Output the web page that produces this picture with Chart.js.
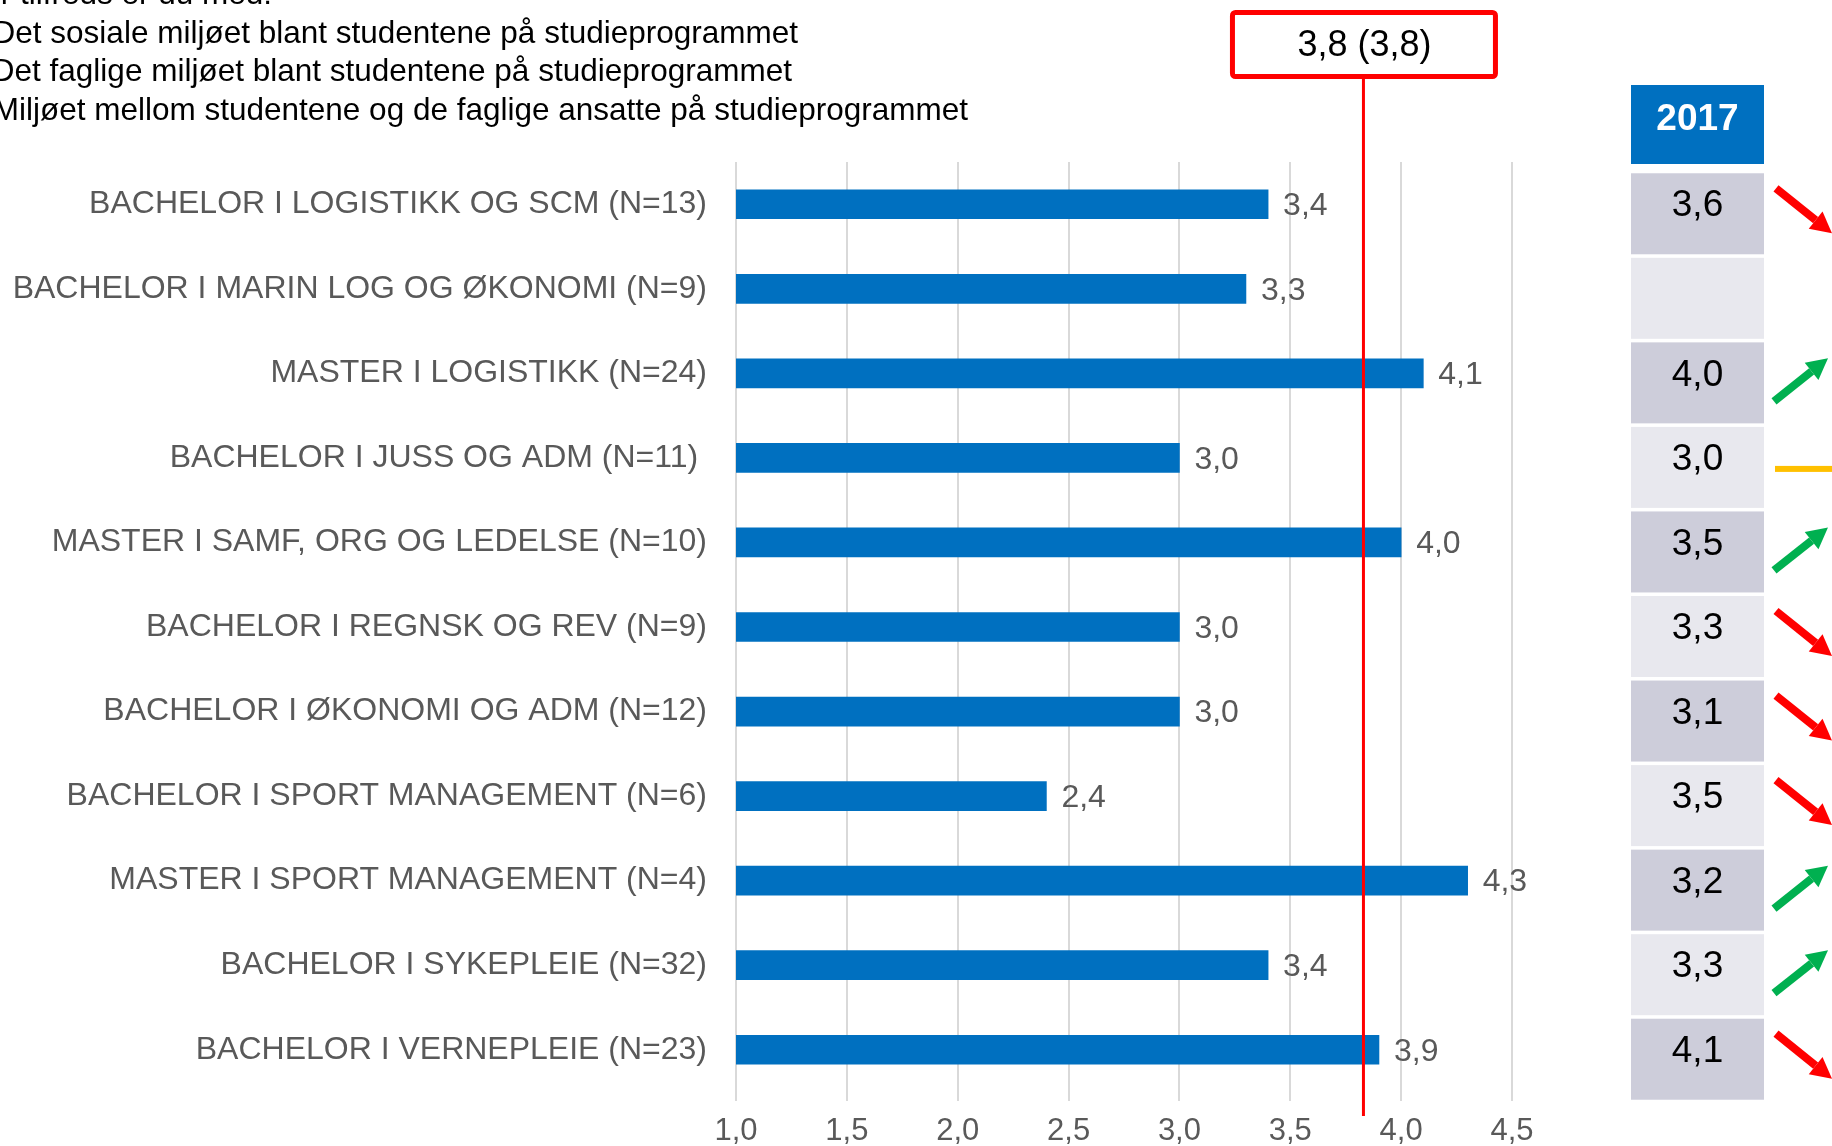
<!DOCTYPE html>
<html lang="no">
<head>
<meta charset="UTF-8">
<title>Studiemiljø</title>
<script src="https://cdn.jsdelivr.net/npm/chart.js@4.4.0/dist/chart.umd.min.js"></script>
<style>
  html, body { margin:0; padding:0; background:#ffffff; overflow:hidden; }
  canvas { display:block; }
</style>
</head>
<body>
<canvas id="miljo_chart" width="1832" height="1146"></canvas>
<script>
// data
const programmes = [
  'BACHELOR I LOGISTIKK OG SCM (N=13)',
  'BACHELOR I MARIN LOG OG ØKONOMI (N=9)',
  'MASTER I LOGISTIKK (N=24)',
  'BACHELOR I JUSS OG ADM (N=11) ',
  'MASTER I SAMF, ORG OG LEDELSE (N=10)',
  'BACHELOR I REGNSK OG REV (N=9)',
  'BACHELOR I ØKONOMI OG ADM (N=12)',
  'BACHELOR I SPORT MANAGEMENT (N=6)',
  'MASTER I SPORT MANAGEMENT (N=4)',
  'BACHELOR I SYKEPLEIE (N=32)',
  'BACHELOR I VERNEPLEIE (N=23)'
];
const score2018 = [3.4, 3.3, 4.1, 3.0, 4.0, 3.0, 3.0, 2.4, 4.3, 3.4, 3.9];
const score2017 = [3.6, null, 4.0, 3.0, 3.5, 3.3, 3.1, 3.5, 3.2, 3.3, 4.1];
const average = 3.83;
const averageLabel = '3,8 (3,8)';
const xTicks = [1.0, 1.5, 2.0, 2.5, 3.0, 3.5, 4.0, 4.5];
const tableYear = '2017';
const questionLines = [
  'Hvor tilfreds er du med:',
  'Det sosiale miljøet blant studentene på studieprogrammet',
  'Det faglige miljøet blant studentene på studieprogrammet',
  'Miljøet mellom studentene og de faglige ansatte på studieprogrammet'
];

const FONT = '"Liberation Sans", Arial, sans-serif';
const GREY = '#595959';
const fmt = v => v.toFixed(1).replace('.', ',');

function drawArrow(ctx, x1, y1, x2, y2, color) {
  const ang = Math.atan2(y2 - y1, x2 - x1);
  const head = 21, half = 11;
  const bx = x2 - head * Math.cos(ang), by = y2 - head * Math.sin(ang);
  ctx.strokeStyle = color;
  ctx.lineWidth = 8;
  ctx.beginPath(); ctx.moveTo(x1, y1); ctx.lineTo(bx, by); ctx.stroke();
  ctx.fillStyle = color;
  ctx.beginPath();
  ctx.moveTo(x2, y2);
  ctx.lineTo(bx + half * Math.sin(ang), by - half * Math.cos(ang));
  ctx.lineTo(bx - half * Math.sin(ang), by + half * Math.cos(ang));
  ctx.closePath();
  ctx.fill();
}

// verdier, snitt-linje, 2017-tabell og piler
const overlay = {
  id: 'overlay',
  afterDatasetsDraw(chart) {
    const ctx = chart.ctx;
    const xs = chart.scales.x, ys = chart.scales.y;
    const meta = chart.getDatasetMeta(0);
    ctx.save();

    // verdier ved stolpene
    ctx.font = '32px ' + FONT;
    ctx.fillStyle = GREY;
    ctx.textAlign = 'left';
    ctx.textBaseline = 'middle';
    meta.data.forEach((bar, i) => ctx.fillText(fmt(score2018[i]), bar.x + 15, bar.y + 2));

    // snitt
    const ax = xs.getPixelForValue(average);
    ctx.strokeStyle = '#ff0000';
    ctx.lineWidth = 3;
    ctx.beginPath(); ctx.moveTo(ax, 79); ctx.lineTo(ax, 1116); ctx.stroke();
    ctx.fillStyle = '#ffffff';
    ctx.lineWidth = 5;
    ctx.beginPath();
    ctx.roundRect(ax - 131, 12.5, 263, 64, 3);
    ctx.fill(); ctx.stroke();
    ctx.fillStyle = '#000000';
    ctx.font = '36px ' + FONT;
    ctx.textAlign = 'center';
    ctx.fillText(averageLabel, ax + 1, 46);

    // spørsmålstekst
    ctx.font = '31.5px ' + FONT;
    ctx.textAlign = 'right';
    ctx.textBaseline = 'alphabetic';
    const rightEdges = [272, 798, 792, 968];
    questionLines.forEach((t, i) => ctx.fillText(t, rightEdges[i], 4 + i * 38.5));

    // 2017-kolonne
    const cx = 1631, cw = 133;
    ctx.fillStyle = '#0070c0';
    ctx.fillRect(cx, 85, cw, 79);
    ctx.fillStyle = '#ffffff';
    ctx.font = 'bold 37px ' + FONT;
    ctx.textAlign = 'center';
    ctx.textBaseline = 'middle';
    ctx.fillText(tableYear, cx + cw / 2, 120);

    ctx.font = '37px ' + FONT;
    programmes.forEach((p, i) => {
      const y = ys.getPixelForValue(i);
      ctx.fillStyle = i % 2 === 0 ? '#cdcdda' : '#e8e8ee';
      ctx.fillRect(cx, y - 31, cw, 81);
      const prev = score2017[i];
      if (prev === null) return;
      ctx.fillStyle = '#000000';
      ctx.fillText(fmt(prev), cx + cw / 2, y + 2);
      const now = score2018[i];
      if (now > prev) drawArrow(ctx, 1774, y + 28, 1828, y - 15, '#00b050');
      else if (now < prev) drawArrow(ctx, 1776, y - 16, 1832, y + 29, '#ff0000');
      else { ctx.fillStyle = '#ffc000'; ctx.fillRect(1775, y + 8, 57, 6); }
    });
    ctx.restore();
  }
};

const ctx = document.getElementById('miljo_chart').getContext('2d');
const chart = new Chart(ctx, {
  type: 'bar',
  data: {
    labels: programmes,
    datasets: [{
      data: score2018,
      backgroundColor: '#0070c0',
      borderWidth: 0,
      barThickness: 29
    }]
  },
  options: {
    indexAxis: 'y',
    responsive: false,
    animation: false,
    layout: { padding: { top: 162, right: 320, left: 0, bottom: 0 } },
    plugins: { legend: { display: false }, tooltip: { enabled: false } },
    scales: {
      x: {
        min: xTicks[0],
        max: xTicks[xTicks.length - 1],
        afterBuildTicks: s => { s.ticks = xTicks.map(v => ({ value: v })); },
        afterFit: s => { s.height = 54; },
        grid: { color: '#d9d9d9', lineWidth: 2, drawTicks: true, tickLength: 9 },
        border: { display: false },
        ticks: { callback: v => fmt(v), color: GREY, font: { size: 31, family: FONT }, padding: 12, maxRotation: 0 }
      },
      y: {
        afterFit: s => { s.width = 736; },
        grid: { display: false, drawTicks: false },
        border: { display: false },
        ticks: { color: GREY, font: { size: 32, family: FONT }, padding: 29 }
      }
    }
  },
  plugins: [overlay]
});
</script>
</body>
</html>
